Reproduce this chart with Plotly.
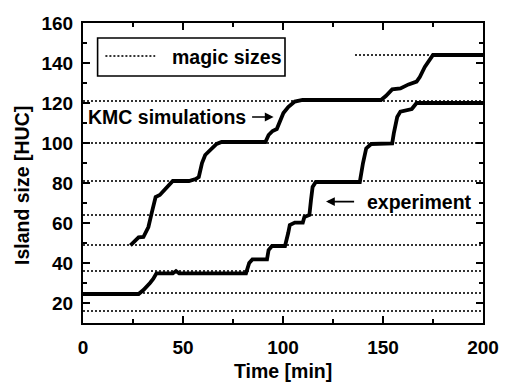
import plotly.graph_objects as go

# Island size vs. time: KMC simulation and experiment, with magic (square) sizes
kmc_time = [23.7, 27.8, 30.2, 32.7, 34.3, 36.3, 38.4, 40.0, 42.4, 44.9, 53.0, 56.3,
             57.9, 59.5, 61.1, 64.4, 66.8, 69.3, 91.2, 92.8, 94.8, 96.9, 98.5, 100.2,
             102.6, 105.9, 109.8, 149.0, 151.4, 154.6, 158.7, 162.8, 166.8, 168.4,
             170.9, 173.3, 175.0, 200.0]
kmc_size = [48.8, 52.8, 53.0, 58.0, 64.8, 73.0, 74.0, 75.7, 78.0, 81.0, 81.0, 82.0,
            83.0, 90.0, 94.0, 97.0, 99.5, 100.5, 100.5, 104.0, 106.0, 107.0, 111.5, 115.0,
            118.0, 120.7, 121.5, 121.5, 123.5, 126.8, 127.3, 129.3, 130.7, 133.0,
            138.0, 142.0, 144.0, 144.0]

exp_time = [0.0, 27.8, 30.2, 31.9, 33.5, 35.1, 36.7, 44.9, 46.5, 48.1, 81.5, 83.1,
            84.7, 92.0, 92.8, 94.5, 101.0, 102.6, 103.4, 105.9, 109.9, 110.7, 113.2,
            114.0, 114.8, 116.4, 138.4, 140.0, 141.6, 144.1, 154.6, 155.4, 157.1,
            158.7, 162.0, 164.4, 166.8, 167.6, 200.0]
exp_size = [24.5, 24.5, 26.5, 28.0, 30.0, 32.0, 34.8, 34.8, 36.0, 34.8, 34.8, 40.0,
            41.8, 41.8, 46.5, 48.5, 48.5, 55.0, 59.0, 60.2, 60.2, 63.0, 64.0,
            71.5, 78.0, 80.5, 80.5, 90.0, 97.3, 99.5, 99.8, 104.8, 113.0,
            115.7, 116.5, 117.0, 120.0, 120.0, 120.0]

magic_sizes = [16, 25, 36, 49, 64, 81, 100, 121, 144]
magic_start = [0, 0, 0, 0, 0, 0, 0, 0, 136]
time_end = 200

FONT = "Liberation Sans, Arial, Helvetica, sans-serif"
DOT = "2px,2px"

mx, my = [], []
for s, t0 in zip(magic_sizes, magic_start):
    mx += [t0, time_end, None]
    my += [s, s, None]

fig = go.Figure()
fig.add_trace(go.Scatter(x=mx, y=my, mode="lines", hoverinfo="skip",
                         line=dict(color="#333333", width=2, dash=DOT)))
fig.add_trace(go.Scatter(x=kmc_time, y=kmc_size, mode="lines",
                         line=dict(color="black", width=3.8)))
fig.add_trace(go.Scatter(x=exp_time, y=exp_size, mode="lines",
                         line=dict(color="black", width=3.8)))

W, H = 511, 384
L, R, T, B = 83, 18, 23, 61

def px_x(p):
    return (p - L) / (W - L - R)

def px_y(p):
    return (H - B - p) / (H - T - B)

txt = dict(family=FONT, size=19.5, color="black", weight="bold")

annotations = [
    # axis titles
    dict(text="Time [min]", xref="paper", yref="paper", x=px_x(288), y=px_y(371),
         showarrow=False, font=txt, xanchor="center", yanchor="middle"),
    dict(text="Island size [HUC]", xref="paper", yref="paper", x=px_x(20.5), y=px_y(186),
         showarrow=False, font=txt, textangle=-90, xanchor="center", yanchor="middle"),
    # legend text
    dict(text="magic sizes", x=43.4, y=143, xref="x", yref="y", showarrow=False,
         font=txt, xanchor="left", yanchor="middle"),
    # curve labels
    dict(text="KMC simulations", x=82.5, y=113, xref="x", yref="y", showarrow=False,
         font=txt, xanchor="right", yanchor="middle"),
    dict(text="", x=95.3, y=113, ax=83.8, ay=113, xref="x", yref="y", axref="x", ayref="y",
         showarrow=True, arrowhead=2, arrowsize=1.1, arrowwidth=1.6, arrowcolor="black"),
    dict(text="experiment", x=141.0, y=70.7, xref="x", yref="y", showarrow=False,
         font=txt, xanchor="left", yanchor="middle"),
    dict(text="", x=121.5, y=70.7, ax=136.3, ay=70.7, xref="x", yref="y", axref="x", ayref="y",
         showarrow=True, arrowhead=2, arrowsize=1.1, arrowwidth=1.6, arrowcolor="black"),
]

shapes = [
    # legend frame and sample line
    dict(type="rect", xref="x", yref="y", x0=7.3, x1=101, y0=133.5, y1=152.5,
         line=dict(color="black", width=1.6), fillcolor="white"),
    dict(type="line", xref="x", yref="y", x0=11.2, x1=36.1, y0=143.5, y1=143.5,
         line=dict(color="#333333", width=2, dash=DOT)),
]

tickfont = dict(family=FONT, size=19, color="black", weight="bold")
axis_common = dict(showline=True, linecolor="black", linewidth=2, mirror="allticks",
                   ticks="inside", ticklen=7, tickwidth=1.5, tickcolor="black",
                   showgrid=False, zeroline=False, tickfont=tickfont)

fig.update_layout(
    width=W, height=H,
    margin=dict(l=L, r=R, t=T, b=B),
    paper_bgcolor="white", plot_bgcolor="white",
    showlegend=False,
    xaxis=dict(range=[0, 200], tick0=0, dtick=50,
               minor=dict(dtick=25, ticklen=4, tickwidth=1.5, tickcolor="black", ticks="inside"),
               ticklabelstandoff=6, **axis_common),
    yaxis=dict(range=[10, 160], tick0=0, dtick=20,
               minor=dict(dtick=10, ticklen=4, tickwidth=1.5, tickcolor="black", ticks="inside"),
               ticklabelstandoff=4, **axis_common),
    annotations=annotations,
    shapes=shapes,
)

fig.write_html("out.html")
